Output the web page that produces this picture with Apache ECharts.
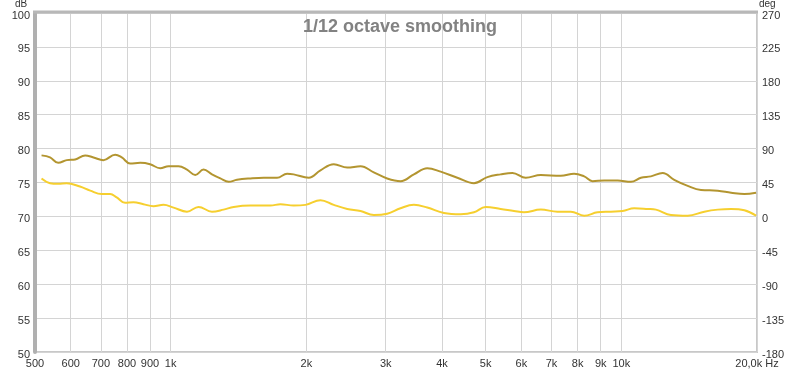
<!DOCTYPE html>
<html><head><meta charset="utf-8">
<script src="https://cdn.jsdelivr.net/npm/echarts@6/dist/echarts.min.js"></script>
<style>html,body{margin:0;padding:0;background:#fff}#c{width:800px;height:373px}</style>
</head><body><div id="c"></div>
<script>
const title = '1/12 octave smoothing';
const freqTicks = [500,600,700,800,900,1000,2000,3000,4000,5000,6000,7000,8000,9000,10000,20000];
const freqLabels = ['500','600','700','800','900','1k','2k','3k','4k','5k','6k','7k','8k','9k','10k','20,0k Hz'];
const dbTicks = [50,55,60,65,70,75,80,85,90,95,100];
const degTicks = [-180,-135,-90,-45,0,45,90,135,180,225,270];

const goldFreq = [517,540,563,588,614,646,674,709,753,779,813,856,900,948,989,1041,1087,1134,1183,1235,1289,1345,1403,1503,1609,1722,1813,1875,2025,2150,2301,2465,2638,2823,3023,3236,3465,3710,3972,4326,4710,5044,5398,5733,6137,6627,7339,7856,8271,8633,9162,9815,10502,11054,11631,12349,13102,14036,15027,16367,17521,18750,19906];
const goldDb = [79.0,78.7,77.9,78.3,78.4,79.0,78.7,78.3,79.1,78.7,77.8,77.9,77.7,77.1,77.4,77.4,76.9,76.1,76.9,76.2,75.6,75.1,75.4,75.6,75.7,75.7,76.3,76.2,75.7,76.8,77.7,77.2,77.4,76.5,75.6,75.2,76.2,77.1,76.6,75.7,74.9,75.8,76.2,76.4,75.7,76.1,76.0,76.3,75.9,75.2,75.3,75.3,75.1,75.7,75.9,76.4,75.4,74.5,73.9,73.8,73.5,73.3,73.5];

const yellowFreq = [517,540,563,588,629,663,703,734,759,792,827,870,916,964,1015,1087,1153,1235,1310,1380,1503,1665,1752,1875,1991,2150,2301,2465,2638,2823,3023,3236,3465,3710,4040,4399,4710,5000,5398,5780,6081,6627,7215,7725,8271,8854,9480,10066,10681,11441,11934,12886,14036,15281,16367,17521,18750,19906];
const yellowDb = [75.6,74.9,74.8,74.9,74.4,73.8,73.3,73.3,72.8,72.0,72.1,71.8,71.5,71.7,71.3,70.7,71.4,70.7,71.0,71.4,71.6,71.6,71.8,71.6,71.7,72.4,71.7,71.1,70.8,70.2,70.4,71.2,71.7,71.3,70.5,70.3,70.6,71.4,71.1,70.8,70.6,71.0,70.7,70.7,70.1,70.6,70.7,70.8,71.2,71.1,71.0,70.2,70.1,70.7,71.0,71.1,70.9,70.1];

const pairs = (xs, ys) => xs.map((x, i) => [x, ys[i]]);
const labelMap = {};
freqTicks.forEach((f, i) => labelMap[f] = freqLabels[i]);

const chart = echarts.init(document.getElementById('c'), null, {renderer: 'canvas'});
const ff = 'Liberation Sans, Arial, sans-serif';
const font = {fontFamily: ff, fontSize: 11, color: '#333'};
chart.setOption({
  animation: false,
  backgroundColor: '#fff',
  title: {text: title, left: 'center', top: 13, textStyle: {fontFamily: ff, fontSize: 18, fontWeight: 'bold', color: '#828282'}},
  grid: {left: 35, right: 43, top: 13, bottom: 21, show: true, borderColor: '#c8c8c8', borderWidth: 2},
  xAxis: {
    type: 'log', logBase: 10, min: 500, max: 20000,
    axisLine: {show: false},
    axisTick: {show: false, customValues: freqTicks},
    axisLabel: Object.assign({customValues: freqTicks, margin: 6, formatter: v => labelMap[Math.round(v)] || ''}, font),
    splitLine: {show: true, lineStyle: {color: '#d4d4d4', width: 1}},
    minorSplitLine: {show: false}
  },
  yAxis: [
    {type: 'value', min: 50, max: 100, interval: 5, position: 'left',
     axisLine: {show: true, lineStyle: {color: '#b0b0b0', width: 4}},
     axisTick: {show: false},
     axisLabel: Object.assign({margin: 5, verticalAlign: 'top', lineHeight: 5}, font),
     splitLine: {show: true, lineStyle: {color: '#d4d4d4', width: 1}}},
    {type: 'value', min: -180, max: 270, interval: 45, position: 'right',
     axisLine: {show: false}, axisTick: {show: false},
     axisLabel: Object.assign({margin: 5, verticalAlign: 'top', lineHeight: 5}, font),
     splitLine: {show: false}}
  ],
  graphic: [
    {type: 'text', left: 15, top: -1, style: {text: 'dB', font: '10px ' + ff, fill: '#333'}},
    {type: 'text', left: 759, top: -1, style: {text: 'deg', font: '10px ' + ff, fill: '#333'}},
    {type: 'line', shape: {x1: 33, y1: 12, x2: 758, y2: 12}, style: {stroke: '#b8b8b8', lineWidth: 3}, z: 10}
  ],
  series: [
    {type: 'line', name: 'A', yAxisIndex: 0, data: pairs(goldFreq, goldDb), smooth: 0.4, showSymbol: false,
     lineStyle: {color: '#b39530', width: 2}, z: 3},
    {type: 'line', name: 'B', yAxisIndex: 0, data: pairs(yellowFreq, yellowDb), smooth: 0.4, showSymbol: false,
     lineStyle: {color: '#f6cf2f', width: 2}, z: 2}
  ]
});
</script></body></html>
